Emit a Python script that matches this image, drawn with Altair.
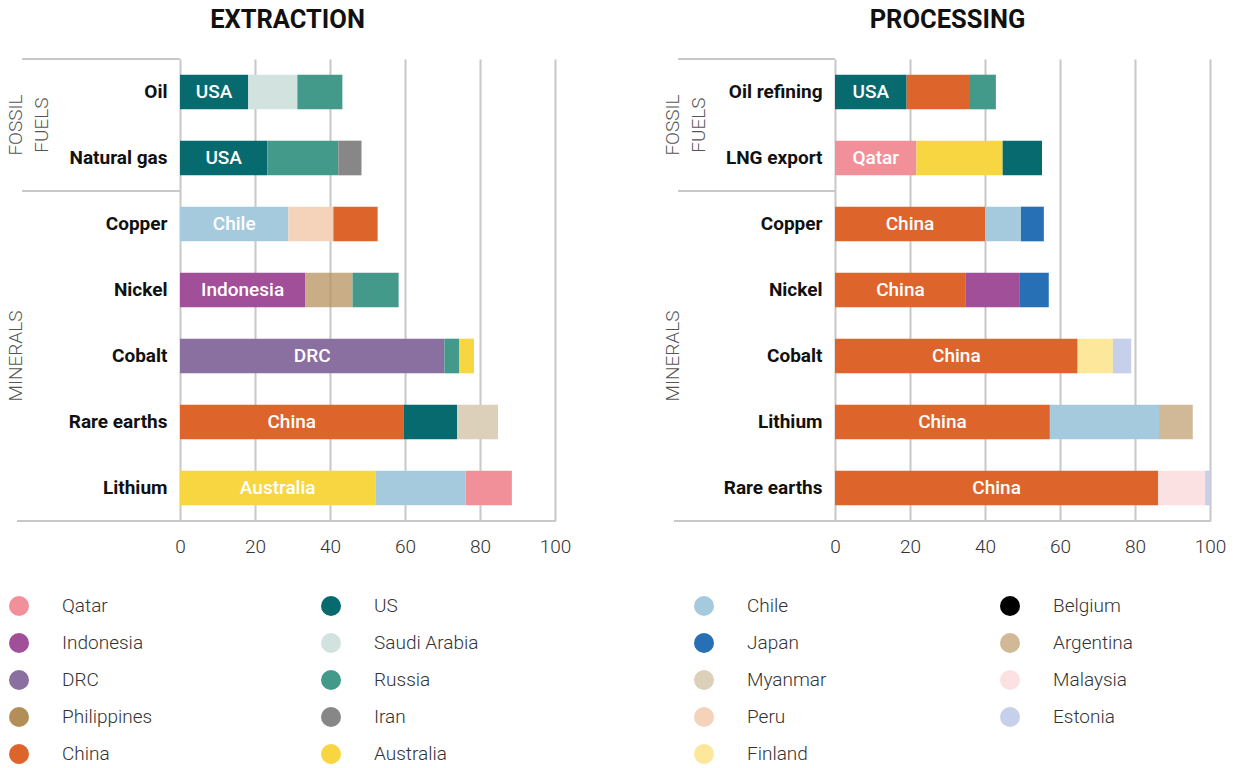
import altair as alt
import pandas as pd

FONT = "Roboto"
LINE = "#c8c8c8"
PANEL_W = 375
PANEL_H = 462

# Country colours used by both panels
COUNTRIES = ["Qatar", "Indonesia", "DRC", "Philippines", "China",
             "US", "Saudi Arabia", "Russia", "Iran", "Australia",
             "Chile", "Japan", "Myanmar", "Peru", "Finland",
             "Belgium", "Argentina", "Malaysia", "Estonia"]
COLORS = ["#F2909A", "#A04F98", "#8A6FA1", "#B38E58", "#DD652B",
          "#066A6E", "#D2E2DE", "#43998A", "#878787", "#F8D642",
          "#A6CADD", "#2770B5", "#DCD0BB", "#F5D3BA", "#FDE79A",
          "#000000", "#D1B997", "#FCE1E3", "#C7D0EB"]
COLOR_OF = dict(zip(COUNTRIES, COLORS))

# Extraction: top three producers, % of world total
EXTRACTION_ROWS = ["Oil", "Natural gas", "Copper", "Nickel", "Cobalt", "Rare earths", "Lithium"]
EXTRACTION_COUNTRIES = [
    ["US", "Saudi Arabia", "Russia"],
    ["US", "Russia", "Iran"],
    ["Chile", "Peru", "China"],
    ["Indonesia", "Philippines", "Russia"],
    ["DRC", "Russia", "Australia"],
    ["China", "US", "Myanmar"],
    ["Australia", "Chile", "Qatar"],
]
EXTRACTION_SHARES = [
    [18.2, 13.1, 12.0],
    [23.3, 18.9, 6.2],
    [28.9, 12.0, 11.8],
    [33.4, 12.6, 12.3],
    [70.5, 3.9, 4.0],
    [59.6, 14.3, 10.9],
    [52.1, 24.1, 12.3],
]
EXTRACTION_LEADERS = ["USA", "USA", "Chile", "Indonesia", "DRC", "China", "Australia"]

# Processing: top three processors, % of world total
PROCESSING_ROWS = ["Oil refining", "LNG export", "Copper", "Nickel", "Cobalt", "Lithium", "Rare earths"]
PROCESSING_COUNTRIES = [
    ["US", "China", "Russia"],
    ["Qatar", "Australia", "US"],
    ["China", "Chile", "Japan"],
    ["China", "Indonesia", "Japan"],
    ["China", "Finland", "Estonia"],
    ["China", "Chile", "Argentina"],
    ["China", "Malaysia", "Estonia"],
]
PROCESSING_SHARES = [
    [19.1, 16.9, 6.9],
    [21.7, 23.0, 10.5],
    [40.0, 9.6, 6.1],
    [34.9, 14.4, 7.7],
    [64.7, 9.4, 4.9],
    [57.3, 29.1, 9.0],
    [86.2, 12.5, 1.3],
]
PROCESSING_LEADERS = ["USA", "Qatar", "China", "China", "China", "China", "China"]

# Legend entries per panel, column by column (two columns each)
LEFT_LEGEND = ["Qatar", "Indonesia", "DRC", "Philippines", "China",
               "US", "Saudi Arabia", "Russia", "Iran", "Australia"]
RIGHT_LEGEND = ["Chile", "Japan", "Myanmar", "Peru", "Finland",
                "Belgium", "Argentina", "Malaysia", "Estonia"]

X_AXIS = alt.Axis(values=[0, 20, 40, 60, 80, 100], grid=True,
                  gridColor=LINE, gridWidth=2, domain=False,
                  ticks=False, tickSize=0, labelFont=FONT,
                  labelFontSize=19, labelFontWeight=300, labelFlush=False,
                  labelColor="#333", labelPadding=16, title=None)
Y_AXIS = alt.Axis(domain=False, ticks=False, grid=False,
                  labelFont=FONT, labelFontSize=19,
                  labelFontWeight="bold", labelColor="#111",
                  labelPadding=13, title=None)


def long_table(rows, countries, shares, leaders):
    recs = []
    for r, cs, vs, lead in zip(rows, countries, shares, leaders):
        for i, (c, v) in enumerate(zip(cs, vs)):
            recs.append({"row": r, "country": c, "share": v, "seg": i,
                         "label": lead if i == 0 else ""})
    return pd.DataFrame(recs)


def panel(title, title_dx, rows, df, legend_values, legend_x, col_pad, fx):
    y_scale = alt.Scale(domain=rows, paddingInner=0, paddingOuter=0)
    x_scale = alt.Scale(domain=[0, 100], nice=False)
    domain = legend_values + [c for c in COUNTRIES if c not in legend_values]
    color_scale = alt.Scale(domain=domain, range=[COLOR_OF[c] for c in domain])

    base = alt.Chart(df)
    bars = base.mark_bar(height={"band": 0.525}).encode(
        x=alt.X("share:Q", stack="zero", scale=x_scale, axis=X_AXIS),
        y=alt.Y("row:N", scale=y_scale, axis=Y_AXIS),
        color=alt.Color("country:N", scale=color_scale,
                        legend=alt.Legend(title=None, orient="none",
                                          legendX=legend_x, legendY=537,
                                          values=legend_values, columns=2,
                                          columnPadding=col_pad, rowPadding=17,
                                          symbolType="circle", symbolSize=400,
                                          symbolStrokeWidth=0, symbolOpacity=1,
                                          labelFont=FONT, labelFontSize=19,
                                          labelFontWeight=300, labelColor="#333",
                                          labelOffset=33, padding=0)),
        order=alt.Order("seg:Q"),
        opacity=alt.condition(alt.datum.country == "Philippines",
                              alt.value(0.72), alt.value(1.0)),
    )

    leaders = base.transform_filter(alt.datum.seg == 0).transform_calculate(
        mid="datum.share / 2"
    ).mark_text(font=FONT, fontSize=19, fontWeight=500, color="white",
                baseline="middle", align="center").encode(
        x=alt.X("mid:Q", scale=x_scale, axis=X_AXIS),
        y=alt.Y("row:N", scale=y_scale, axis=Y_AXIS),
        text="label:N",
    )

    # Frame lines around the category labels
    top_lines = alt.Chart(pd.DataFrame({"row": [rows[0], rows[2]]})).mark_rule(
        color=LINE, strokeWidth=2
    ).encode(
        y=alt.Y("row:N", scale=y_scale, bandPosition=0, axis=Y_AXIS),
        x=alt.value(fx[0]), x2=alt.value(0),
    )
    bottom_line = alt.Chart(pd.DataFrame({"row": [rows[-1]]})).mark_rule(
        color=LINE, strokeWidth=2
    ).encode(
        y=alt.Y("row:N", scale=y_scale, bandPosition=1, axis=Y_AXIS),
        x=alt.value(fx[1]), x2=alt.value(PANEL_W),
    )

    def group_label(text, row, band, xpix):
        return alt.Chart(pd.DataFrame({"row": [row], "txt": [text]})).mark_text(
            font=FONT, fontSize=19, fontWeight=300, color="#555",
            angle=270, align="center", baseline="middle"
        ).encode(
            y=alt.Y("row:N", scale=y_scale, bandPosition=band, axis=Y_AXIS),
            x=alt.value(xpix), text="txt:N",
        )

    groups = (group_label("FOSSIL", rows[1], 0, fx[2])
              + group_label("FUELS", rows[1], 0, fx[3])
              + group_label("MINERALS", rows[4], 0.5, fx[2]))

    return alt.layer(bars, leaders, top_lines, bottom_line, groups).properties(
        width=PANEL_W, height=PANEL_H,
        title=alt.TitleParams(title, font=FONT, fontSize=25.5, fontWeight="bold",
                              color="#111", anchor="middle", frame="group",
                              dx=title_dx, offset=5, baseline="alphabetic"),
    )


left = panel("EXTRACTION", -80, EXTRACTION_ROWS,
             long_table(EXTRACTION_ROWS, EXTRACTION_COUNTRIES, EXTRACTION_SHARES, EXTRACTION_LEADERS),
             LEFT_LEGEND, -171, 168, (-158, -163, -164, -138))
right = panel("PROCESSING", -75, PROCESSING_ROWS,
              long_table(PROCESSING_ROWS, PROCESSING_COUNTRIES, PROCESSING_SHARES, PROCESSING_LEADERS),
              RIGHT_LEGEND, -141, 173, (-157, -161, -162, -136))

chart = alt.hconcat(left, right, spacing=280, bounds="flush").resolve_scale(
    color="independent", x="independent", y="independent"
).properties(
    padding={"left": 7, "top": 7, "right": 5, "bottom": 2},
    background="white",
).configure_view(stroke=None)

chart.save("out.html", embed_options={"renderer": "svg", "actions": False})
